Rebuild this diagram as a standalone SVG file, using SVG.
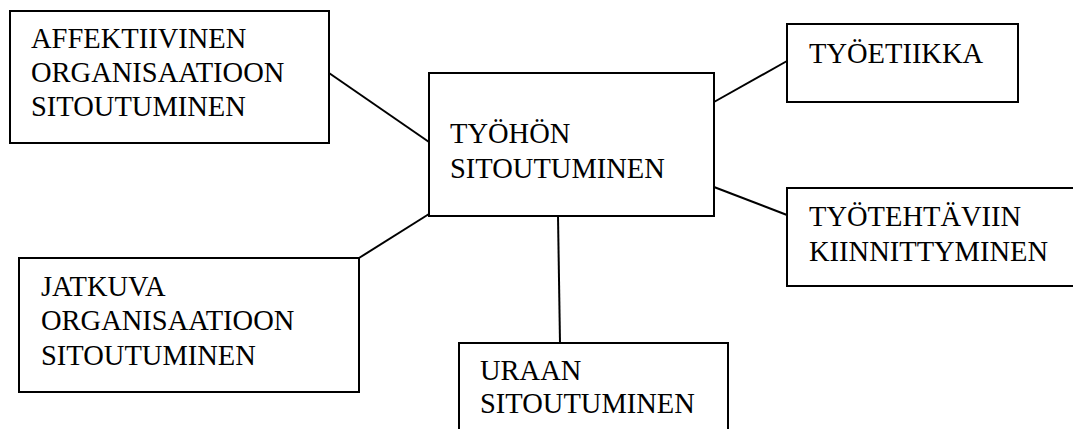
<svg xmlns="http://www.w3.org/2000/svg" width="1073" height="429" viewBox="0 0 1073 429">
<style>
.box{fill:#fff;stroke:#000;stroke-width:2}
.t{font-size:28.5px;fill:#000}
.c line{stroke:#000;stroke-width:2}
</style>
<rect width="1073" height="429" fill="#fff"/>
<g class="c" id="connectors">
<line x1="329" y1="73" x2="429" y2="142"/>
<line x1="714" y1="102" x2="787" y2="61"/>
<line x1="714" y1="187" x2="787" y2="215"/>
<line x1="359" y1="258" x2="429" y2="214"/>
<line x1="558" y1="216" x2="560" y2="343"/>
</g>
<g font-family="Liberation Serif, Times New Roman, DejaVu Serif, serif">
<g id="affektiivinen">
<rect class="box" x="10" y="11" width="319" height="132"/>
<text class="t" x="31" y="48">AFFEKTIIVINEN</text>
<text class="t" x="31" y="82">ORGANISAATIOON</text>
<text class="t" x="31" y="116">SITOUTUMINEN</text>
</g>
<g id="tyohon">
<rect class="box" x="429" y="73" width="285" height="143"/>
<text class="t" x="450" y="143">TYÖHÖN</text>
<text class="t" x="450" y="177.5">SITOUTUMINEN</text>
</g>
<g id="tyoetiikka">
<rect class="box" x="787" y="24" width="231" height="78"/>
<text class="t" x="809" y="63">TYÖETIIKKA</text>
</g>
<g id="tyotehtaviin">
<rect class="box" x="787" y="188" width="300" height="98"/>
<text class="t" x="809" y="226">TYÖTEHTÄVIIN</text>
<text class="t" x="809" y="260.5">KIINNITTYMINEN</text>
</g>
<g id="jatkuva">
<rect class="box" x="19" y="258" width="340" height="134"/>
<text class="t" x="41" y="296">JATKUVA</text>
<text class="t" x="41" y="330">ORGANISAATIOON</text>
<text class="t" x="41" y="365">SITOUTUMINEN</text>
</g>
<g id="uraan">
<rect class="box" x="459" y="343" width="269" height="100"/>
<text class="t" x="480" y="380">URAAN</text>
<text class="t" x="480" y="413">SITOUTUMINEN</text>
</g>
</g>
</svg>
